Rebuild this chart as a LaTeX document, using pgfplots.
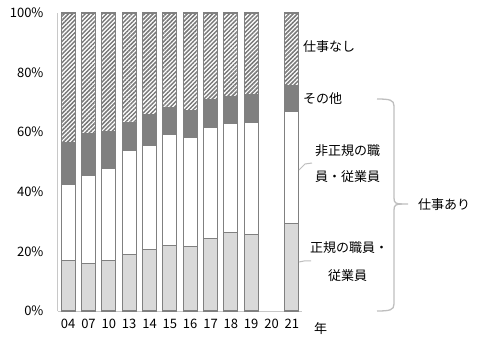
\documentclass[border=0pt]{standalone}
\usepackage{pgfplots}
\pgfplotsset{compat=1.18}
\usepackage{pgfplotstable}
\usetikzlibrary{patterns.meta}
\usepackage{fontspec}
\setmainfont{Noto Sans CJK JP}
\definecolor{seiki}{RGB}{217,217,217}
\definecolor{sonota}{RGB}{128,128,128}
\definecolor{edge}{RGB}{128,128,128}
\definecolor{hatch}{RGB}{120,120,120}
\definecolor{axisgray}{RGB}{200,200,200}
\definecolor{bracegray}{RGB}{190,190,190}

\pgfplotstableread{
x  seiki hiseiki sonota nashi
0  16.8  25.8    14.0   43.4
1  16.0  29.4    14.0   40.6
2  16.8  30.9    12.6   39.7
3  19.0  34.8    9.4    36.8
4  20.7  34.8    10.3   34.2
5  22.0  37.4    8.8    31.8
6  21.7  36.5    8.9    32.9
7  24.4  37.1    9.4    29.1
8  26.2  36.7    9.2    27.9
9  25.7  37.7    9.1    27.5
11 29.5  37.3    9.0    24.2
}\data

\begin{document}
\fontsize{13bp}{15bp}\selectfont
\begin{tikzpicture}
\useasboundingbox (-58bp,-30bp) rectangle (422bp,311bp);
\begin{axis}[
  scale only axis,
  width=244bp, height=298bp,
  at={(0,0)}, anchor=south west,
  ybar stacked,
  bar width=14bp,
  xmin=-0.5, xmax=11.5,
  ymin=0, ymax=100,
  axis x line*=bottom,
  axis y line*=left,
  axis line style={axisgray, line width=1bp, -},
  major tick length=0pt,
  xtick={0,1,2,3,4,5,6,7,8,9,10,11},
  xticklabels={04,07,10,13,14,15,16,17,18,19,20,21},
  ytick={0,20,40,60,80,100},
  yticklabels={0\%,20\%,40\%,60\%,80\%,100\%},
  tick label style={font=\fontsize{13bp}{15bp}\selectfont},
  yticklabel style={xshift=-10bp},
  xticklabel style={yshift=-4bp},
  clip=false,
]
\addplot[fill=seiki, draw=edge, line width=1.1bp] table[x=x, y=seiki] {\data};
\addplot[fill=white, draw=edge, line width=1.1bp] table[x=x, y=hiseiki] {\data};
\addplot[fill=sonota, draw=edge, line width=1.1bp] table[x=x, y=sonota] {\data};
\addplot[pattern={Lines[angle=45,distance=3bp,line width=1.5bp]}, pattern color=hatch, draw=edge, line width=1.1bp] table[x=x, y=nashi] {\data};
\end{axis}
% annotations
\node[anchor=west, inner sep=0] at (245bp,264bp) {仕事なし};
\node[anchor=west, inner sep=0] at (245bp,212bp) {その他};
\node[inner sep=0] at (289.5bp,160bp) {非正規の職};
\node[inner sep=0] at (289.5bp,134bp) {員・従業員};
\node[inner sep=0] at (291bp,63bp) {正規の職員・};
\node[inner sep=0] at (289.5bp,35bp) {従業員};
\node[anchor=west, inner sep=0] at (360bp,106bp) {仕事あり};
\node[inner sep=0] at (262.5bp,-18bp) {年};
% leader lines
\draw[bracegray, line width=1bp] (241bp,141bp) -- (247bp,147bp) -- (254bp,148bp);
\draw[bracegray, line width=1bp] (241bp,49bp) -- (246bp,50bp) -- (253bp,50bp);
% brace
\draw[bracegray, line width=1.3bp]
  (319bp,212bp) .. controls (332bp,212bp) and (336bp,211bp) .. (336bp,205bp)
  -- (336bp,113bp) .. controls (336bp,108bp) and (338bp,107bp) .. (344bp,107bp) -- (350bp,107bp);
\draw[bracegray, line width=1.3bp]
  (344bp,107bp) .. controls (338bp,107bp) and (336bp,106bp) .. (336bp,101bp)
  -- (336bp,7bp) .. controls (336bp,1bp) and (332bp,0bp) .. (319bp,0bp);
\end{tikzpicture}
\end{document}
